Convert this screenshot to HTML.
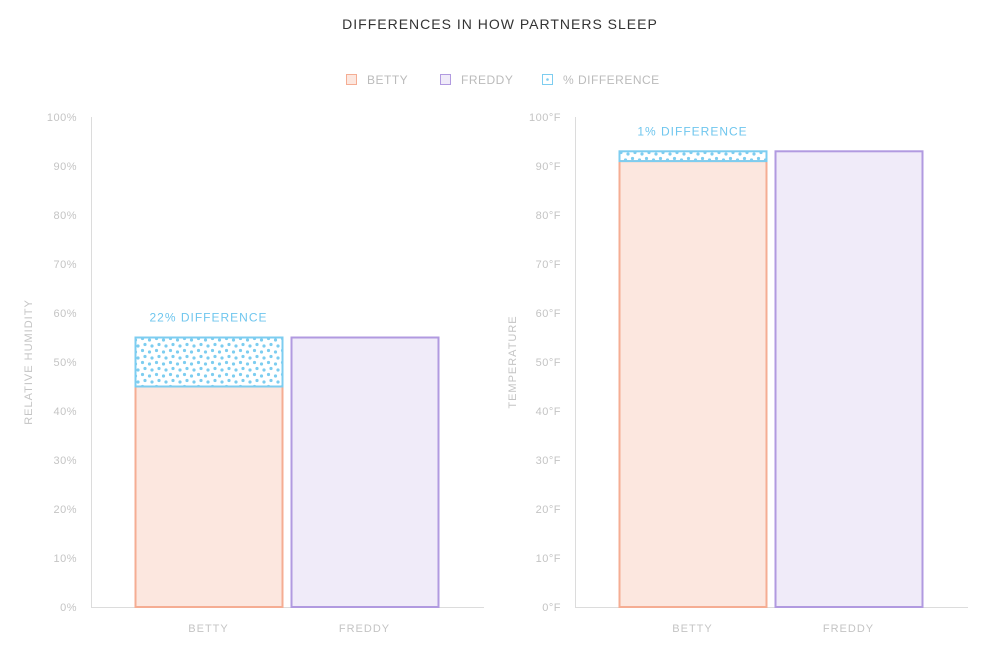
<!DOCTYPE html>
<html><head><meta charset="utf-8"><style>
body{margin:0;background:#fff;font-family:"Liberation Sans",sans-serif}
svg text{font-family:"Liberation Sans",sans-serif;letter-spacing:1px}
</style></head><body>
<svg id="c" width="1000" height="647">
<defs>
<pattern id="dots" width="14" height="12" patternUnits="userSpaceOnUse">
<circle cx="2.5" cy="2.5" r="1.6" fill="#7dcdf0"/><circle cx="9.5" cy="4" r="1.6" fill="#7dcdf0"/><circle cx="5" cy="8.5" r="1.6" fill="#7dcdf0"/><circle cx="12" cy="10" r="1.6" fill="#7dcdf0"/>
</pattern>
</defs>
<text x="500" y="29" text-anchor="middle" font-size="14" fill="#333">DIFFERENCES IN HOW PARTNERS SLEEP</text>
<g font-size="12" fill="#bbb" style="letter-spacing:0.5px">
<rect x="346.5" y="74.5" width="10" height="10" fill="#fce7df" stroke="#f5ad93"/>
<text x="367" y="84" style="letter-spacing:0.5px">BETTY</text>
<rect x="440.5" y="74.5" width="10" height="10" fill="#f0ebf9" stroke="#b19ae0"/>
<text x="461" y="84" style="letter-spacing:0.5px">FREDDY</text>
<rect x="542.5" y="74.5" width="10" height="10" fill="#fff" stroke="#7dcdf0"/>
<circle cx="547.5" cy="79.5" r="1.3" fill="#7dcdf0"/>
<text x="563" y="84" style="letter-spacing:0.5px">% DIFFERENCE</text>
</g>
<g id="g"></g>
</svg>
<script>
const leftTicks=["0%","10%","20%","30%","40%","50%","60%","70%","80%","90%","100%"];
const rightTicks=["0°F","10°F","20°F","30°F","40°F","50°F","60°F","70°F","80°F","90°F","100°F"];
const categories=["BETTY","FREDDY"];
const humidity=[45,55];
const temperature=[91,93];
const diffLabels=["22% DIFFERENCE","1% DIFFERENCE"];
const NS="http://www.w3.org/2000/svg";
const g=document.getElementById('g');
function mk(t,a,txt){const e=document.createElementNS(NS,t);for(const k in a)e.setAttribute(k,a[k]);if(txt!=null)e.textContent=txt;g.appendChild(e);return e;}
function y(v){return 607-v*4.9;}
function panel(ax,ticks,vals,title,diff,pfx){
  const ax0=mk('line',{x1:ax+.5,y1:117,x2:ax+.5,y2:607,stroke:'#dcdcdc'});
  
  
  const bl=mk('line',{x1:ax,y1:607.5,x2:ax+393,y2:607.5,stroke:'#dcdcdc'});
  
  
  ticks.forEach((t,i)=>{const e=mk('text',{x:ax-14,y:y(i*10)+4,'text-anchor':'end','font-size':11,fill:'#c4c4c4',style:'letter-spacing:0.5px'},t);
    
    });
  const tt=mk('text',{x:0,y:0,'text-anchor':'middle','font-size':11,fill:'#c4c4c4',transform:`translate(${ax-59},362) rotate(-90)`},title);
  
  
  const xs=[ax+44,ax+200],w=147,cols=[['#fce7df','#f5ad93'],['#f0ebf9','#b19ae0']];
  vals.forEach((v,i)=>{
    const r=mk('rect',{x:xs[i]+.5,y:y(v),width:w,height:607-y(v),fill:cols[i][0],stroke:cols[i][1],'stroke-width':2});
    
    
    const l=mk('text',{x:xs[i]+w/2,y:632,'text-anchor':'middle','font-size':11,fill:'#c4c4c4'},categories[i]);
    
    
  });
  const top=Math.max(...vals);
  const d=mk('rect',{x:xs[0]+.5,y:y(top),width:w,height:y(vals[0])-y(top),fill:'url(#dots)',stroke:'#7dcdf0','stroke-width':2});
  
  
  const dl=mk('text',{x:xs[0]+w/2,y:y(top)-16,'text-anchor':'middle','font-size':12,fill:'#6fc6ee'},diff);
  
  
}
panel(91,leftTicks,humidity,'RELATIVE HUMIDITY',diffLabels[0],'humidity');
panel(575,rightTicks,temperature,'TEMPERATURE',diffLabels[1],'temperature');
</script>
</body></html>
